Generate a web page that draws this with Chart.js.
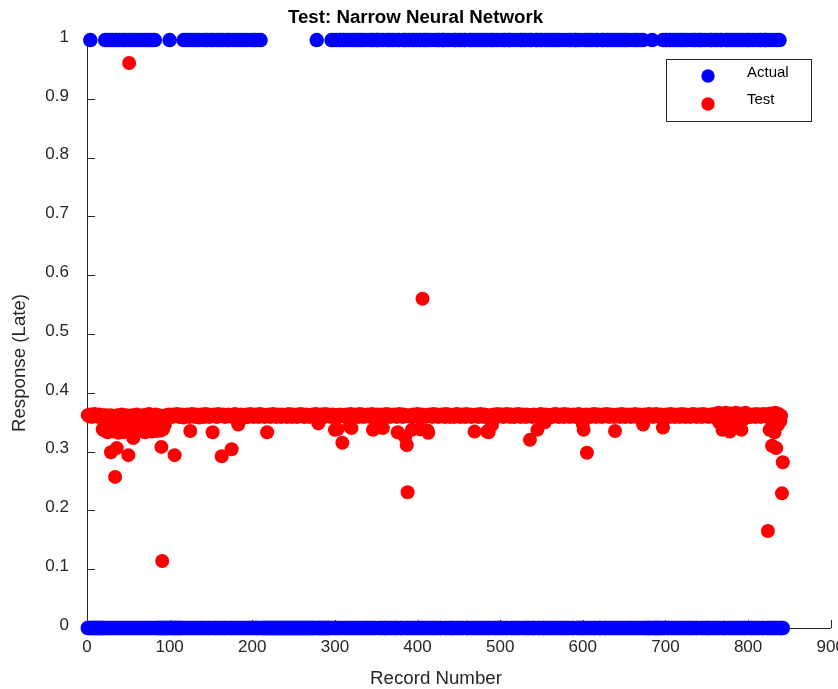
<!DOCTYPE html>
<html>
<head>
<meta charset="utf-8">
<title>Test: Narrow Neural Network</title>
<script src="https://cdn.jsdelivr.net/npm/chart.js@4.4.1/dist/chart.umd.min.js"></script>
<style>
  html, body { margin: 0; padding: 0; background: #ffffff; }
  #wrap { width: 838px; height: 689px; }
</style>
</head>
<body>
<div id="wrap"><canvas id="chart" width="838" height="689"></canvas></div>
<script>
// Observed class per record (1 = late, 0 = on time), records 1..842
const actual = [
  0,0,0,1,0,0,0,0,0,0, 0,0,0,0,0,0,0,0,0,0, 0,1,0,0,1,0,0,1,0,0, 1,0,0,1,0,1,0,0,1,0,
  0,1,0,0,1,0,1,0,0,1, 0,0,1,0,1,0,0,1,0,0, 1,0,1,0,0,1,0,0,1,0, 0,1,0,1,0,0,1,0,0,1,
  0,1,0,0,0,0,0,0,0,0, 0,0,0,0,0,0,0,0,0,1, 0,0,0,0,0,0,0,0,0,0, 0,0,0,0,0,0,1,0,0,1,
  0,0,1,0,1,0,0,1,0,0, 1,0,0,1,0,1,0,0,0,1, 0,0,1,0,1,0,0,1,0,0, 1,0,1,0,0,0,1,0,0,1,
  0,0,1,0,1,0,0,0,1,0, 1,0,0,1,0,0,1,0,1,0, 0,1,0,0,1,0,0,1,0,0, 1,0,0,1,0,0,0,1,0,0,
  1,0,1,0,0,0,1,0,0,1, 0,0,0,0,0,0,0,0,0,0, 0,0,0,0,0,0,0,0,0,0, 0,0,0,0,0,0,0,0,0,0,
  0,0,0,0,0,0,0,0,0,0, 0,0,0,0,0,0,0,0,0,0, 0,0,0,0,0,0,0,0,0,0, 0,0,0,0,0,0,0,1,0,0,
  0,0,0,0,0,0,0,0,0,0, 0,0,0,0,0,1,0,0,1,0, 0,1,0,0,1,0,1,0,0,1, 1,0,0,1,0,1,0,0,1,0,
  0,1,0,1,0,0,1,0,1,0, 1,0,1,0,0,1,0,0,0,1, 0,0,1,0,1,0,1,0,0,1, 1,1,0,0,1,0,0,1,0,0,
  0,1,0,0,1,1,0,0,1,0, 1,0,0,1,0,0,1,1,0,0, 0,0,1,1,0,1,0,0,1,0, 1,0,0,1,0,1,0,0,1,0,
  0,1,0,1,0,0,1,0,1,0, 1,0,1,0,0,1,0,0,0,1, 0,0,1,0,1,0,1,0,0,1, 1,1,0,0,1,0,0,1,0,0,
  0,1,0,0,1,1,0,0,1,0, 1,0,0,1,0,0,1,1,0,0, 0,0,1,1,0,1,0,0,1,0, 1,0,0,1,0,1,0,0,1,0,
  0,1,0,1,0,0,1,0,1,0, 1,0,1,0,0,1,0,0,0,1, 0,0,1,0,1,0,1,0,0,1, 1,1,0,0,1,0,0,1,0,0,
  0,1,0,0,1,1,0,0,1,0, 1,0,0,1,0,0,1,1,0,0, 0,0,1,1,0,1,0,0,1,0, 1,0,0,1,0,1,0,0,1,0,
  0,1,0,1,0,0,1,0,1,0, 1,0,1,0,0,1,0,0,0,1, 0,0,1,0,1,0,1,0,0,1, 1,1,0,0,1,0,0,1,0,0,
  0,1,0,0,1,1,0,0,1,0, 1,0,0,1,0,0,1,1,0,0, 0,0,1,1,0,1,0,0,1,0, 1,0,0,1,0,1,0,0,1,0,
  0,1,0,1,0,0,1,0,1,0, 1,0,1,0,0,1,0,0,0,1, 0,0,1,0,1,0,1,0,0,1, 0,0,1,0,0,0,0,0,0,0,
  0,0,0,1,0,0,0,0,0,0, 0,0,0,0,0,0,1,0,0,1, 1,0,0,1,0,1,0,0,1,0, 0,1,0,1,0,0,1,0,1,0,
  1,0,1,0,0,1,0,0,0,1, 0,0,1,0,1,0,1,0,0,1, 1,1,0,0,1,0,0,1,0,0, 0,1,0,0,1,1,0,0,1,0,
  1,0,0,1,0,0,1,1,0,0, 0,0,1,1,0,1,0,0,1,0, 1,0,0,1,0,1,0,0,1,0, 0,1,0,1,0,0,1,0,1,0,
  1,0,1,0,0,1,0,0,0,1, 0,0,1,0,1,0,1,0,0,1, 1,1,0,0,1,0,0,1,0,0, 0,1,0,0,1,0,0,1,0,0,
  0,0
];

// Model response per record, records 1..842
const test = [
  0.362,0.361,0.360,0.363,0.361,0.359,0.362,0.360,0.364,0.361,
  0.360,0.362,0.361,0.359,0.363,0.361,0.360,0.362,0.338,0.361,
  0.336,0.362,0.340,0.361,0.333,0.360,0.335,0.362,0.299,0.342,
  0.361,0.334,0.360,0.257,0.338,0.306,0.362,0.332,0.361,0.344,
  0.336,0.363,0.339,0.360,0.333,0.361,0.341,0.362,0.335,0.294,
  0.961,0.338,0.360,0.336,0.362,0.323,0.361,0.340,0.334,0.363,
  0.360,0.337,0.361,0.343,0.359,0.335,0.362,0.338,0.361,0.333,
  0.362,0.340,0.360,0.336,0.364,0.339,0.361,0.334,0.360,0.342,
  0.361,0.337,0.363,0.335,0.360,0.341,0.362,0.339,0.336,0.308,
  0.114,0.338,0.361,0.345,0.360,0.362,0.359,0.361,0.363,0.360,
  0.362,0.361,0.359,0.363,0.360,0.294,0.362,0.361,0.364,0.360,
  0.361,0.359,0.362,0.360,0.363,0.361,0.358,0.362,0.360,0.361,
  0.363,0.360,0.362,0.359,0.335,0.361,0.364,0.360,0.362,0.361,
  0.359,0.363,0.361,0.360,0.362,0.358,0.361,0.363,0.360,0.362,
  0.361,0.359,0.364,0.360,0.362,0.361,0.363,0.359,0.361,0.360,
  0.362,0.333,0.361,0.363,0.360,0.362,0.359,0.361,0.364,0.360,
  0.362,0.361,0.292,0.360,0.363,0.361,0.359,0.362,0.360,0.361,
  0.363,0.360,0.362,0.361,0.304,0.359,0.362,0.360,0.364,0.361,
  0.360,0.362,0.346,0.361,0.359,0.363,0.360,0.362,0.361,0.358,
  0.362,0.360,0.363,0.361,0.359,0.362,0.360,0.364,0.361,0.360,
  0.362,0.359,0.361,0.363,0.360,0.362,0.361,0.359,0.364,0.360,
  0.361,0.363,0.360,0.362,0.359,0.361,0.362,0.333,0.360,0.363,
  0.361,0.359,0.362,0.360,0.364,0.361,0.360,0.362,0.359,0.361,
  0.363,0.360,0.362,0.361,0.359,0.363,0.360,0.362,0.361,0.360,
  0.362,0.359,0.361,0.364,0.360,0.362,0.361,0.359,0.363,0.360,
  0.361,0.362,0.360,0.359,0.363,0.361,0.360,0.362,0.364,0.361,
  0.360,0.362,0.359,0.361,0.363,0.360,0.362,0.361,0.359,0.362,
  0.361,0.360,0.363,0.362,0.359,0.361,0.364,0.360,0.362,0.348,
  0.361,0.359,0.363,0.360,0.362,0.361,0.359,0.364,0.360,0.362,
  0.361,0.363,0.360,0.362,0.359,0.361,0.363,0.360,0.362,0.337,
  0.361,0.359,0.338,0.362,0.360,0.363,0.361,0.362,0.315,0.360,
  0.362,0.361,0.359,0.363,0.360,0.362,0.361,0.343,0.364,0.340,
  0.360,0.362,0.361,0.359,0.363,0.360,0.362,0.361,0.359,0.364,
  0.361,0.360,0.362,0.363,0.359,0.361,0.360,0.362,0.361,0.363,
  0.360,0.362,0.359,0.361,0.364,0.337,0.360,0.339,0.362,0.361,
  0.363,0.360,0.362,0.359,0.361,0.363,0.360,0.340,0.362,0.361,
  0.359,0.364,0.360,0.362,0.361,0.363,0.359,0.361,0.360,0.362,
  0.361,0.363,0.360,0.362,0.359,0.333,0.361,0.364,0.360,0.362,
  0.361,0.359,0.363,0.360,0.325,0.362,0.311,0.231,0.361,0.360,
  0.362,0.359,0.337,0.361,0.363,0.360,0.362,0.361,0.359,0.364,
  0.360,0.362,0.338,0.361,0.363,0.560,0.360,0.362,0.359,0.361,
  0.360,0.336,0.332,0.363,0.361,0.360,0.362,0.359,0.364,0.361,
  0.362,0.360,0.363,0.361,0.359,0.362,0.360,0.361,0.363,0.360,
  0.361,0.362,0.359,0.364,0.360,0.362,0.361,0.363,0.359,0.361,
  0.360,0.362,0.361,0.359,0.363,0.360,0.362,0.364,0.361,0.360,
  0.362,0.359,0.361,0.363,0.360,0.362,0.361,0.359,0.364,0.360,
  0.361,0.362,0.360,0.363,0.359,0.361,0.362,0.360,0.334,0.361,
  0.363,0.360,0.362,0.359,0.361,0.364,0.360,0.362,0.361,0.359,
  0.363,0.360,0.362,0.334,0.361,0.333,0.360,0.362,0.359,0.345,
  0.361,0.363,0.360,0.362,0.361,0.359,0.364,0.360,0.362,0.361,
  0.360,0.363,0.361,0.359,0.362,0.360,0.361,0.364,0.360,0.362,
  0.361,0.359,0.363,0.360,0.362,0.361,0.359,0.363,0.360,0.362,
  0.361,0.364,0.360,0.362,0.359,0.361,0.363,0.360,0.362,0.361,
  0.359,0.363,0.360,0.362,0.361,0.320,0.360,0.362,0.359,0.361,
  0.363,0.360,0.362,0.361,0.337,0.359,0.362,0.360,0.364,0.361,
  0.360,0.362,0.361,0.350,0.363,0.360,0.362,0.359,0.361,0.360,
  0.362,0.361,0.359,0.363,0.360,0.362,0.364,0.361,0.360,0.362,
  0.359,0.361,0.363,0.360,0.362,0.361,0.359,0.364,0.360,0.362,
  0.361,0.360,0.363,0.359,0.362,0.361,0.360,0.362,0.363,0.361,
  0.359,0.362,0.360,0.361,0.364,0.360,0.362,0.361,0.359,0.347,
  0.337,0.362,0.360,0.363,0.298,0.361,0.362,0.360,0.359,0.363,
  0.361,0.360,0.362,0.364,0.361,0.359,0.362,0.360,0.363,0.361,
  0.360,0.362,0.359,0.361,0.363,0.360,0.362,0.361,0.364,0.360,
  0.362,0.359,0.361,0.363,0.360,0.362,0.361,0.359,0.335,0.362,
  0.360,0.363,0.361,0.362,0.359,0.361,0.364,0.360,0.362,0.361,
  0.359,0.363,0.360,0.362,0.361,0.360,0.363,0.359,0.362,0.361,
  0.360,0.362,0.364,0.361,0.359,0.362,0.360,0.361,0.363,0.360,
  0.362,0.361,0.346,0.359,0.363,0.360,0.362,0.361,0.359,0.364,
  0.360,0.362,0.361,0.363,0.359,0.361,0.360,0.362,0.364,0.361,
  0.360,0.362,0.359,0.361,0.363,0.360,0.341,0.362,0.361,0.359,
  0.363,0.360,0.362,0.361,0.359,0.364,0.360,0.362,0.361,0.363,
  0.359,0.361,0.360,0.362,0.363,0.361,0.359,0.362,0.360,0.364,
  0.361,0.360,0.362,0.359,0.363,0.361,0.360,0.362,0.361,0.359,
  0.363,0.360,0.362,0.364,0.361,0.360,0.362,0.359,0.361,0.363,
  0.360,0.362,0.361,0.359,0.364,0.360,0.362,0.361,0.363,0.360,
  0.362,0.359,0.361,0.360,0.363,0.362,0.361,0.359,0.364,0.360,
  0.362,0.361,0.363,0.366,0.350,0.365,0.355,0.348,0.337,0.364,
  0.352,0.361,0.366,0.349,0.356,0.364,0.345,0.334,0.365,0.353,
  0.362,0.357,0.364,0.351,0.366,0.360,0.354,0.363,0.348,0.365,
  0.356,0.337,0.362,0.355,0.364,0.360,0.366,0.358,0.363,0.361,
  0.360,0.362,0.359,0.361,0.363,0.360,0.362,0.361,0.359,0.364,
  0.360,0.362,0.361,0.363,0.359,0.361,0.360,0.362,0.364,0.361,
  0.360,0.363,0.362,0.165,0.359,0.337,0.365,0.355,0.310,0.348,
  0.362,0.333,0.366,0.306,0.360,0.345,0.364,0.357,0.352,0.361,
  0.229,0.282
];

const seriesNames = ['Actual', 'Test'];
const seriesColors = ['#0000ff', '#ff0000'];
const xTicks = [0, 100, 200, 300, 400, 500, 600, 700, 800, 900];
const yTicks = [0, 0.1, 0.2, 0.3, 0.4, 0.5, 0.6, 0.7, 0.8, 0.9, 1];

const FONT = '"Liberation Sans", Arial, Helvetica, sans-serif';
const AXIS_COLOR = '#262626';

const toPoints = (vals) => vals.map((v, i) => ({ x: i + 1, y: v }));

// Inward tick marks on the left and bottom axes, drawn under the markers
const innerTicks = {
  id: 'innerTicks',
  beforeDatasetsDraw(chart) {
    const { ctx, chartArea, scales } = chart;
    const len = 8;
    ctx.save();
    ctx.strokeStyle = AXIS_COLOR;
    ctx.lineWidth = 1;
    ctx.beginPath();
    yTicks.forEach(v => {
      const py = Math.round(scales.y.getPixelForValue(v)) + 0.5;
      ctx.moveTo(chartArea.left, py);
      ctx.lineTo(chartArea.left + len, py);
    });
    xTicks.forEach(v => {
      const px = Math.round(scales.x.getPixelForValue(v)) + 0.5;
      ctx.moveTo(px, chartArea.bottom);
      ctx.lineTo(px, chartArea.bottom - len);
    });
    ctx.stroke();
    ctx.restore();
  }
};

// Axis titles placed beside the axes
const axisTitles = {
  id: 'axisTitles',
  afterDraw(chart) {
    const { ctx } = chart;
    ctx.save();
    ctx.fillStyle = AXIS_COLOR;
    ctx.font = '18.7px ' + FONT;
    ctx.textAlign = 'center';
    ctx.textBaseline = 'middle';
    ctx.fillText('Record Number', 436, 679);
    ctx.translate(20, 363);
    ctx.rotate(-Math.PI / 2);
    ctx.fillText('Response (Late)', 0, 0);
    ctx.restore();
  }
};

// Boxed legend in the upper right of the plot
const boxLegend = {
  id: 'boxLegend',
  afterDatasetsDraw(chart) {
    const { ctx } = chart;
    const x = 666.5, y = 59.5, w = 145, h = 62;
    ctx.save();
    ctx.fillStyle = '#ffffff';
    ctx.fillRect(x, y, w, h);
    ctx.strokeStyle = AXIS_COLOR;
    ctx.lineWidth = 1;
    ctx.strokeRect(x, y, w, h);
    const rows = [{ my: 76, ty: 73 }, { my: 104, ty: 100 }];
    chart.data.datasets.forEach((ds, i) => {
      ctx.fillStyle = ds.backgroundColor;
      ctx.beginPath();
      ctx.arc(708, rows[i].my, 6.7, 0, Math.PI * 2);
      ctx.fill();
      ctx.fillStyle = '#000000';
      ctx.font = '15px ' + FONT;
      ctx.textAlign = 'left';
      ctx.textBaseline = 'middle';
      ctx.fillText(ds.label, 747, rows[i].ty);
    });
    ctx.restore();
  }
};

new Chart(document.getElementById('chart'), {
  type: 'scatter',
  data: {
    datasets: [
      {
        label: seriesNames[0],
        data: toPoints(actual),
        backgroundColor: seriesColors[0],
        borderWidth: 0,
        pointRadius: 7.3,
        pointHoverRadius: 7.3,
        clip: false
      },
      {
        label: seriesNames[1],
        data: toPoints(test),
        backgroundColor: seriesColors[1],
        borderWidth: 0,
        pointRadius: 7,
        pointHoverRadius: 7,
        clip: false
      }
    ]
  },
  options: {
    responsive: false,
    animation: false,
    events: [],
    layout: { padding: { left: 0, right: 7, top: 0, bottom: 0 } },
    plugins: {
      legend: { display: false },
      tooltip: { enabled: false },
      title: {
        display: true,
        text: 'Test: Narrow Neural Network',
        color: '#000000',
        font: { family: FONT, size: 18.7, weight: 'bold' },
        padding: { top: 7, bottom: 10.6 }
      }
    },
    scales: {
      x: {
        type: 'linear',
        min: 0,
        max: 900,
        afterBuildTicks: (s) => { s.ticks = xTicks.map(v => ({ value: v })); },
        afterFit: (s) => { s.height = 61; s.paddingLeft = 0; s.paddingRight = 0; },
        grid: { display: false, drawTicks: false },
        border: { display: true, color: AXIS_COLOR, width: 1 },
        ticks: {
          color: AXIS_COLOR,
          font: { family: FONT, size: 17 },
          padding: 9,
          maxRotation: 0,
          autoSkip: false,
          callback: (v) => String(v)
        }
      },
      y: {
        type: 'linear',
        min: 0,
        max: 1,
        afterBuildTicks: (s) => { s.ticks = yTicks.map(v => ({ value: v })); },
        afterFit: (s) => { s.width = 87; s.paddingTop = 0; s.paddingBottom = 0; },
        grid: { display: false, drawTicks: false },
        border: { display: true, color: AXIS_COLOR, width: 1 },
        ticks: {
          color: AXIS_COLOR,
          font: { family: FONT, size: 17 },
          padding: 18,
          labelOffset: -3,
          autoSkip: false,
          callback: (v) => (v === 0 || v === 1) ? String(v) : v.toFixed(1)
        }
      }
    }
  },
  plugins: [innerTicks, axisTitles, boxLegend]
});
</script>
</body>
</html>
